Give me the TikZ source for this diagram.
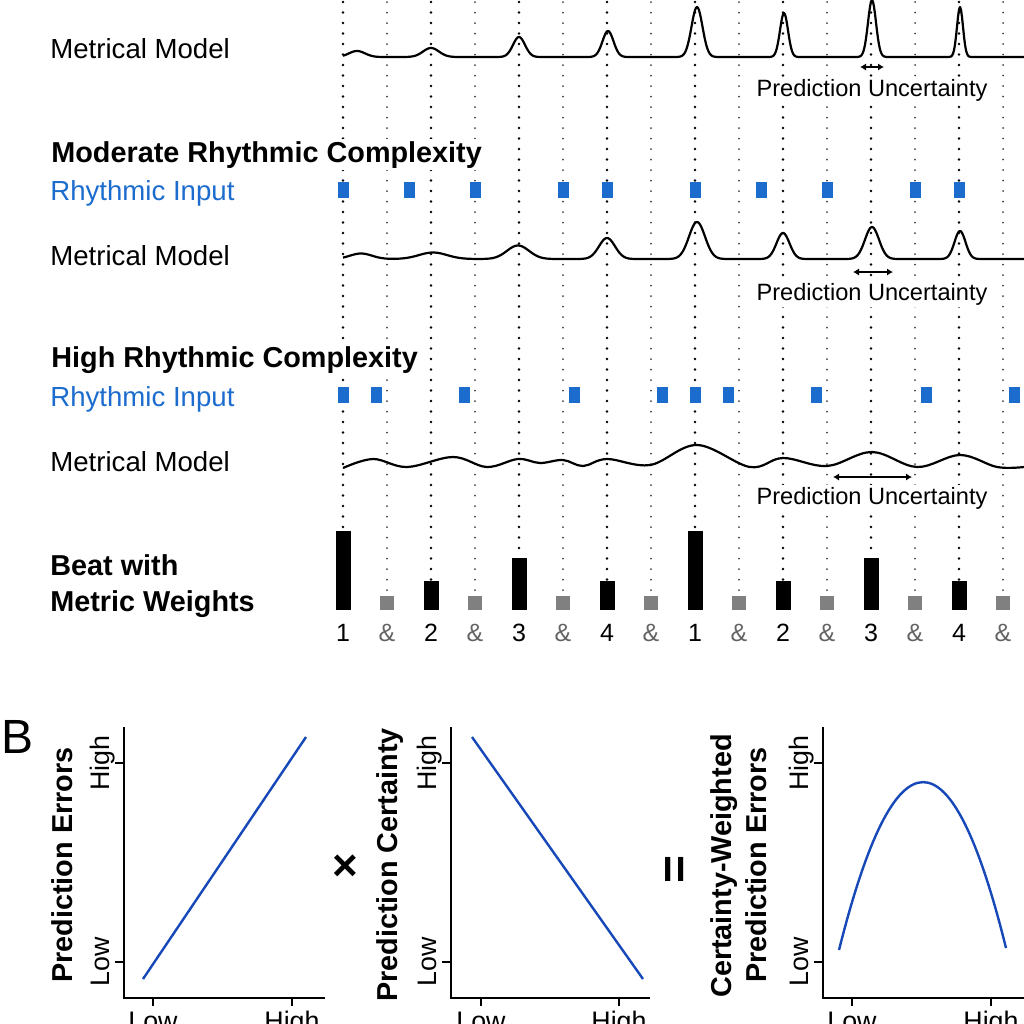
\documentclass[tikz,border=0pt]{standalone}
\usepackage{fontspec}
\setmainfont{Liberation Sans}
\usepackage{tikz}
\usetikzlibrary{arrows.meta}

\definecolor{inputblue}{RGB}{28,108,206}
\definecolor{curveblue}{RGB}{22,72,184}
\definecolor{offgray}{RGB}{128,128,128}
\definecolor{andgray}{RGB}{100,100,100}

\tikzset{
  rowlabel/.style={anchor=base west, inner sep=0pt, font=\fontsize{13.8}{16}\selectfont},
  header/.style={anchor=base west, inner sep=1pt, fill=white, font=\fontsize{14.4}{17}\selectfont\bfseries},
  uncert/.style={anchor=base, fill=white, inner sep=1pt, font=\fontsize{11.8}{14}\selectfont},
  beatline/.style={line width=1.45pt, line cap=round, dash pattern=on 0pt off 5.25pt},
  offline/.style={black!75, line width=1pt, line cap=round, dash pattern=on 0pt off 5.25pt},
  model/.style={line width=1.1pt, line join=round},
  onset/.style={fill=inputblue},
  uncarrow/.style={{Latex[length=3pt,width=3.6pt]}-{Latex[length=3pt,width=3.6pt]}, line width=0.8pt},
  count/.style={anchor=base, inner sep=0pt, font=\fontsize{12.5}{15}\selectfont},
  axisline/.style={line width=1.2pt},
  trend/.style={curveblue, line width=1.2pt},
  ticklabel/.style={anchor=base, inner sep=0pt, font=\fontsize{13.4}{16}\selectfont},
  ylab/.style={rotate=90, anchor=base, inner sep=0pt, font=\fontsize{14.4}{17}\selectfont\bfseries},
}

\begin{document}
\begin{tikzpicture}[x=0.5pt, y=-0.5pt,
    declare function={gb(\gd,\gs)=exp(-0.5*(min(abs(\gd)/\gs,5))^2);}]
  \useasboundingbox (0,0) rectangle (1024,1024);
  \clip (0,0) rectangle (1024,1024);

  % grid of beats and offbeats
  \foreach \i/\top in {0/531,2/581,4/558,6/581,8/531,10/581,12/558,14/581}
    \draw[beatline] ({343+44*\i},2) -- ({343+44*\i},\top);
  \foreach \i in {1,3,...,15}
    \draw[offline] ({343+44*\i},2) -- ({343+44*\i},596);

  % low complexity
  \node[rowlabel] (mm1) at (50,58) {Metrical Model};
  \draw[model] plot[domain=343:1024, samples=682] (\x, {57 - 6*gb(\x-357,8) - 9*gb(\x-431,8)
      - 20*gb(\x-519,6) - 26*gb(\x-608,5.5) - 50*gb(\x-697,5.5) - 44*gb(\x-784,4)
      - 57*gb(\x-872,4) - 50*gb(\x-960,3)});
  \coordinate (u1a) at (860,67);
  \coordinate (u1b) at (884,67);
  \draw[uncarrow] (u1a) -- (u1b);
  \node[uncert] (pu1) at (872,96) {Prediction Uncertainty};

  % moderate complexity
  \node[header] (mod) at (49,162) {Moderate Rhythmic Complexity};
  \node[rowlabel, inputblue] (ri2) at (50,200) {Rhythmic Input};
  \foreach \p in {0,1.5,3,5,6,8,9.5,11,13,14}
    \fill[onset] ({343+44*\p-5.5},182) rectangle ({343+44*\p+5.5},198);
  \node[rowlabel] (mm2) at (50,265) {Metrical Model};
  \draw[model] plot[domain=343:1024, samples=682] (\x, {259 - 5.5*gb(\x-361,11) - 6.5*gb(\x-433,14)
      - 13.5*gb(\x-518,11) - 21*gb(\x-607,8) - 37*gb(\x-697,8) - 26*gb(\x-783,6.5)
      - 32*gb(\x-872,7) - 28*gb(\x-960,5.5)});
  \coordinate (u2a) at (853,272);
  \coordinate (u2b) at (893,272);
  \draw[uncarrow] (u2a) -- (u2b);
  \node[uncert] (pu2) at (872,300) {Prediction Uncertainty};

  % high complexity
  \node[header] (hig) at (49,367) {High Rhythmic Complexity};
  \node[rowlabel, inputblue] (ri3) at (50,406) {Rhythmic Input};
  \foreach \p in {0,0.75,2.75,5.25,7.25,8,8.75,10.75,13.25,15.25}
    \fill[onset] ({343+44*\p-5.5},387) rectangle ({343+44*\p+5.5},403);
  \node[rowlabel] (mm3) at (50,471) {Metrical Model};
  \draw[model] plot[smooth, tension=0.6] coordinates {(343,468) (373,459) (407,467) (453,457)
      (487,467) (518,459) (540,463) (563,460) (583,466) (607,459) (650,465) (697,445)
      (750,467) (783,458) (827,466) (872,452) (917,467) (960,455) (997,467) (1024,467)};
  \coordinate (u3a) at (833,477);
  \coordinate (u3b) at (912,477);
  \draw[uncarrow] (u3a) -- (u3b);
  \node[uncert] (pu3) at (872,504) {Prediction Uncertainty};

  % metric weights
  \node[rowlabel, font=\fontsize{14.4}{17}\selectfont\bfseries] (bw) at (50,575) {Beat with};
  \node[rowlabel, font=\fontsize{14.4}{17}\selectfont\bfseries] (mw) at (50,611) {Metric Weights};
  \foreach \i/\top/\t in {0/531/1,2/581/2,4/558/3,6/581/4,8/531/1,10/581/2,12/558/3,14/581/4} {
    \fill ({343+44*\i-7.5},\top) rectangle ({343+44*\i+7.5},610);
    \node[count] (c\i) at ({343+44*\i},641) {\t};
  }
  \foreach \i in {1,3,...,15} {
    \fill[offgray] ({343+44*\i-7},596) rectangle ({343+44*\i+7},610);
    \node[count, andgray] (c\i) at ({343+44*\i},641) {\&};
  }

  % panel B
  \node[anchor=base west, inner sep=0pt, font=\fontsize{24}{28}\selectfont] (panelB) at (1,753) {B};
  \foreach \ax/\xr/\ta/\tb in {124/325/153/292, 451/650/481/619, 823/1030/852/991} {
    \draw[axisline] (\ax,727) -- (\ax,998) -- (\xr,998);
    \draw[axisline] ({\ax-9},763) -- (\ax,763);
    \draw[axisline] ({\ax-9},962) -- (\ax,962);
    \draw[axisline] (\ta,998) -- (\ta,1006);
    \draw[axisline] (\tb,998) -- (\tb,1006);
    \node[ticklabel, rotate=90] (yh\ax) at ({\ax-15},763) {High};
    \node[ticklabel, rotate=90] (yl\ax) at ({\ax-15},962) {Low};
    \node[ticklabel] (xl\ax) at (\ta,1030) {Low};
    \node[ticklabel] (xh\ax) at (\tb,1030) {High};
  }
  \node[ylab] (pe) at (72,865) {Prediction Errors};
  \node[ylab] (pc) at (397,865) {Prediction Certainty};
  \node[ylab] (cw) at (731,866) {Certainty-Weighted};
  \node[ylab] (pe2) at (766,865) {Prediction Errors};
  \draw[trend] (143,979) -- (306,737);
  \draw[trend] (472,737) -- (643,979);
  \draw[trend] (839,950) .. controls (895,727) and (951,726) .. (1006,948);
  \node[font=\fontsize{22}{26}\selectfont\bfseries] (times) at (345,868) {×};
  \node[rotate=90, font=\fontsize{24}{28}\selectfont\bfseries] (equals) at (678,869) {=};
\end{tikzpicture}
\end{document}
